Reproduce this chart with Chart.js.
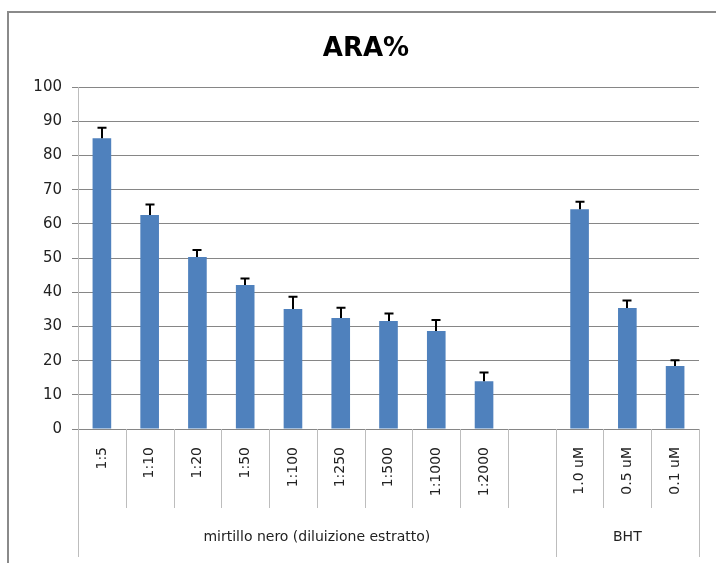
<!DOCTYPE html>
<html>
<head>
<meta charset="utf-8">
<script src="https://cdn.jsdelivr.net/npm/chart.js@4.4.0/dist/chart.umd.min.js"></script>
<style>
  html, body { margin: 0; padding: 0; background: #fff; }
  canvas { display: block; }
</style>
</head>
<body>
<canvas id="araChart" width="716" height="563"></canvas>
<script>
// categories (empty slot separates the two groups)
const categories = ['1:5', '1:10', '1:20', '1:50', '1:100', '1:250', '1:500', '1:1000', '1:2000', '', '1.0 uM', '0.5 uM', '0.1 uM'];
const araValues = [85.1, 62.6, 50.3, 42.1, 35.1, 32.5, 31.6, 28.7, 14.0, null, 64.3, 35.4, 18.4];
const araErrors = [3.0, 3.1, 2.1, 1.9, 3.6, 3.0, 2.2, 3.2, 2.5, null, 2.2, 2.2, 1.7];
const groupNames = ['mirtillo nero (diluizione estratto)', 'BHT'];
const groupSizes = [10, 3];
const yTicks = [0, 10, 20, 30, 40, 50, 60, 70, 80, 90, 100];

const FONT = "'DejaVu Sans', sans-serif";

// outer frame of the chart
const framePlugin = {
    id: 'frame',
    beforeDraw(chart) {
        const ctx = chart.ctx;
        ctx.save();
        ctx.fillStyle = '#ffffff';
        ctx.fillRect(0, 0, chart.width, chart.height);
        ctx.strokeStyle = '#8a8a8a';
        ctx.lineWidth = 2;
        ctx.strokeRect(8, 12, chart.width + 20, chart.height + 20);
        ctx.restore();
    }
};

// upper error bars
const errorBarPlugin = {
    id: 'errorBars',
    afterDatasetsDraw(chart) {
        const ctx = chart.ctx;
        const y = chart.scales.y;
        const meta = chart.getDatasetMeta(0);
        ctx.save();
        ctx.strokeStyle = '#000000';
        ctx.lineWidth = 2;
        meta.data.forEach((bar, i) => {
            const v = araValues[i];
            const e = araErrors[i];
            if (v === null || e === null) return;
            const top = y.getPixelForValue(v + e);
            const base = y.getPixelForValue(v);
            const x = Math.round(bar.x);
            ctx.beginPath();
            ctx.moveTo(x, base);
            ctx.lineTo(x, top);
            ctx.moveTo(x - 4.5, top);
            ctx.lineTo(x + 4.5, top);
            ctx.stroke();
        });
        ctx.restore();
    }
};

// category separators and group labels under the axis
const groupAxisPlugin = {
    id: 'groupAxis',
    afterDraw(chart) {
        const ctx = chart.ctx;
        const x = chart.scales.x;
        const axisY = chart.chartArea.bottom;
        const rowBottom = axisY + 79;
        const groupBottom = axisY + 128;
        const groupEdges = [0];
        groupSizes.forEach(s => groupEdges.push(groupEdges[groupEdges.length - 1] + s));

        ctx.save();
        ctx.strokeStyle = '#bdbdbd';
        ctx.lineWidth = 1;
        for (let i = 0; i <= categories.length; i++) {
            const px = Math.round(x.getPixelForValue(i - 0.5)) + 0.5;
            const bottom = groupEdges.includes(i) ? groupBottom : rowBottom;
            ctx.beginPath();
            ctx.moveTo(px, axisY);
            ctx.lineTo(px, bottom);
            ctx.stroke();
        }

        ctx.fillStyle = '#222222';
        ctx.font = '14px ' + FONT;
        ctx.textAlign = 'center';
        ctx.textBaseline = 'middle';
        groupNames.forEach((name, g) => {
            const left = x.getPixelForValue(groupEdges[g] - 0.5);
            const right = x.getPixelForValue(groupEdges[g + 1] - 0.5);
            ctx.fillText(name, (left + right) / 2, axisY + 108);
        });
        ctx.restore();
    }
};

document.addEventListener('DOMContentLoaded', function() {
    const ctx = document.getElementById('araChart').getContext('2d');
    new Chart(ctx, {
        type: 'bar',
        data: {
            labels: categories,
            datasets: [{
                label: 'ARA%',
                data: araValues,
                backgroundColor: '#4F81BD',
                borderWidth: 0,
                barPercentage: 0.39,
                categoryPercentage: 1.0
            }]
        },
        options: {
            responsive: false,
            animation: false,
            layout: {
                padding: { left: 33, right: 17, top: 0, bottom: 0 }
            },
            plugins: {
                legend: { display: false },
                tooltip: { enabled: false },
                title: {
                    display: true,
                    text: 'ARA%',
                    color: '#000000',
                    font: { family: FONT, size: 26, weight: 'bold' },
                    padding: { top: 34, bottom: 22 }
                }
            },
            scales: {
                x: {
                    offset: true,
                    grid: { display: false, drawTicks: false },
                    border: { display: true, color: '#868686', width: 1 },
                    ticks: {
                        color: '#222222',
                        font: { family: FONT, size: 14 },
                        minRotation: 90,
                        maxRotation: 90,
                        autoSkip: false,
                        padding: 18
                    },
                    afterFit(scale) { scale.height = 134; }
                },
                y: {
                    min: 0,
                    max: 100,
                    afterBuildTicks(scale) {
                        scale.ticks = yTicks.map(v => ({ value: v }));
                    },
                    grid: { color: '#868686', tickLength: 6 },
                    border: { display: true, color: '#bdbdbd', width: 1 },
                    ticks: {
                        color: '#222222',
                        font: { family: FONT, size: 15 },
                        padding: 10
                    },
                    afterFit(scale) { scale.width = 45; }
                }
            }
        },
        plugins: [framePlugin, errorBarPlugin, groupAxisPlugin]
    });
});
</script>
</body>
</html>
